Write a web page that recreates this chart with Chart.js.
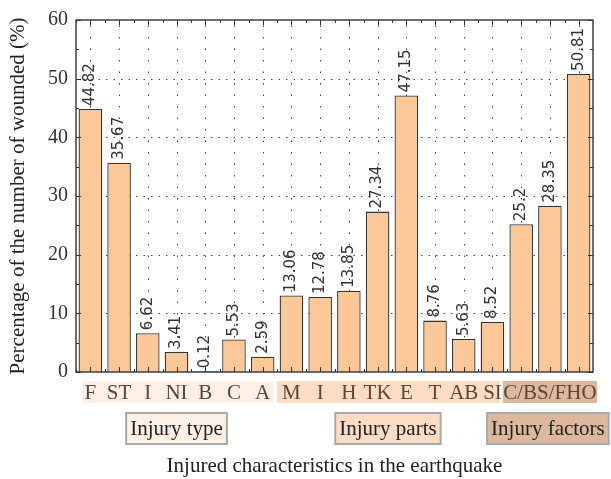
<!DOCTYPE html>
<html>
<head>
<meta charset="utf-8">
<script src="https://cdn.jsdelivr.net/npm/chart.js@4.4.1/dist/chart.umd.min.js"></script>
<style>
  html, body { margin: 0; padding: 0; background: #fff; }
  canvas { display: block; }
</style>
</head>
<body>
<canvas id="injuryChart" width="611" height="479"></canvas>
<script>
// Category labels per group
const typeLabels = ['F', 'ST', 'I', 'NI', 'B', 'C', 'A'];
const partLabels = ['M', 'I', 'H', 'TK', 'E', 'T', 'AB', 'SI'];
const factorLabels = ['C', 'BS', 'FHO'];

// Percentages
const typeValues = [44.82, 35.67, 6.62, 3.41, 0.12, 5.53, 2.59];
const partValues = [13.06, 12.78, 13.85, 27.34, 47.15, 8.76, 5.63, 8.52];
const factorValues = [25.2, 28.35, 50.81];

const groupNames = ['Injury type', 'Injury parts', 'Injury factors'];
const yTicks = [0, 10, 20, 30, 40, 50, 60];

const allLabels = [...typeLabels, ...partLabels, ...factorLabels];
const allValues = [...typeValues, ...partValues, ...factorValues];

// group ranges (first index, last index)
const groups = [
  { name: groupNames[0], from: 0, to: typeLabels.length - 1, band: '#fdf0e6', box: '#fdf0e6' },
  { name: groupNames[1], from: typeLabels.length, to: typeLabels.length + partLabels.length - 1, band: '#fddcc4', box: '#fcdcc3' },
  { name: groupNames[2], from: typeLabels.length + partLabels.length, to: allLabels.length - 1, band: '#ddb89d', box: '#ddb89e' }
];

const serif = '"Liberation Serif", "Times New Roman", serif';

const decorPlugin = {
  id: 'decor',
  beforeDatasetsDraw(chart) {
    // dotted grid, drawn under the bars
    const { ctx, chartArea: a, scales: { x, y } } = chart;
    ctx.save();
    ctx.strokeStyle = '#444';
    ctx.lineWidth = 1;
    ctx.setLineDash([1.5, 6]);
    ctx.beginPath();
    yTicks.slice(1, -1).forEach(v => {
      const py = Math.round(y.getPixelForValue(v)) + 0.5;
      ctx.moveTo(a.left, py); ctx.lineTo(a.right, py);
    });
    ctx.stroke();
    ctx.setLineDash([1.5, 10]);
    ctx.beginPath();
    allLabels.forEach((_, i) => {
      const cx = Math.round(x.getPixelForValue(i)) + 0.5;
      ctx.moveTo(cx, a.bottom); ctx.lineTo(cx, a.top);
    });
    ctx.stroke();
    ctx.restore();
  },
  afterDatasetsDraw(chart) {
    const { ctx, chartArea: a, scales: { x, y } } = chart;
    const meta = chart.getDatasetMeta(0);
    const step = x.getPixelForValue(1) - x.getPixelForValue(0);

    // value labels, rotated
    ctx.save();
    ctx.fillStyle = '#333';
    ctx.font = '15px "DejaVu Sans", sans-serif';
    ctx.textAlign = 'left';
    ctx.textBaseline = 'middle';
    meta.data.forEach((bar, i) => {
      ctx.save();
      ctx.translate(bar.x, bar.y - 3);
      ctx.rotate(-Math.PI / 2);
      ctx.fillText(String(allValues[i]), 0, 0);
      ctx.restore();
    });
    ctx.restore();

    // inner ticks
    ctx.save();
    ctx.strokeStyle = '#333';
    ctx.lineWidth = 1;
    ctx.beginPath();
    allLabels.forEach((_, i) => {
      const cx = Math.round(x.getPixelForValue(i)) + 0.5;
      ctx.moveTo(cx, a.bottom); ctx.lineTo(cx, a.bottom - 5);
      ctx.moveTo(cx, a.top); ctx.lineTo(cx, a.top + 5);
      const bx = Math.round(cx - step / 2) + 0.5;
      ctx.moveTo(bx, a.bottom); ctx.lineTo(bx, a.bottom - 3);
      ctx.moveTo(bx, a.top); ctx.lineTo(bx, a.top + 3);
    });
    for (let v = 0; v <= 60; v += 5) {
      const py = Math.round(y.getPixelForValue(v)) + 0.5;
      const len = v % 10 === 0 ? 5 : 3;
      ctx.moveTo(a.left, py); ctx.lineTo(a.left + len, py);
      ctx.moveTo(a.right, py); ctx.lineTo(a.right - len, py);
    }
    ctx.stroke();

    // frame
    ctx.lineWidth = 1.4;
    ctx.strokeRect(a.left, a.top, a.right - a.left, a.bottom - a.top);
    ctx.restore();
  },
  afterDraw(chart) {
    const { ctx, chartArea: a, scales: { x } } = chart;
    const step = x.getPixelForValue(1) - x.getPixelForValue(0);
    const bandTop = a.bottom + 9, bandH = 22;

    ctx.save();
    ctx.font = '21px ' + serif;
    ctx.textBaseline = 'middle';
    ctx.textAlign = 'center';

    // category bands
    const edges = [
      [x.getPixelForValue(groups[0].from) - step / 2 + 7, x.getPixelForValue(groups[0].to) + step / 2 - 3],
      [x.getPixelForValue(groups[1].from) - step / 2, x.getPixelForValue(groups[1].to) + step / 2 - 8],
      [x.getPixelForValue(groups[2].from) - step / 2 - 4, x.getPixelForValue(groups[2].to) + step / 2 + 4]
    ];
    groups.forEach((g, k) => {
      ctx.fillStyle = g.band;
      ctx.fillRect(edges[k][0], bandTop, edges[k][1] - edges[k][0], bandH);
    });

    ctx.fillStyle = '#5b4636';
    for (let i = 0; i < groups[2].from; i++) {
      ctx.fillText(allLabels[i], x.getPixelForValue(i), bandTop + bandH / 2 + 1);
    }
    const fMid = (x.getPixelForValue(groups[2].from) + x.getPixelForValue(groups[2].to)) / 2;
    ctx.fillText(factorLabels.join('/'), fMid, bandTop + bandH / 2 + 1);

    // group boxes
    const boxTop = a.bottom + 41, boxH = 31;
    groups.forEach((g, k) => {
      const mid = (x.getPixelForValue(g.from) + x.getPixelForValue(g.to)) / 2 - (k === 1 ? 4 : k === 2 ? 2 : 0);
      const w = ctx.measureText(g.name).width + 8;
      ctx.fillStyle = g.box;
      ctx.fillRect(mid - w / 2, boxTop, w, boxH);
      ctx.strokeStyle = '#a9a9a9';
      ctx.lineWidth = 2;
      ctx.strokeRect(mid - w / 2, boxTop, w, boxH);
      ctx.fillStyle = '#222';
      ctx.fillText(g.name, mid, boxTop + boxH / 2 + 1);
    });

    // x axis title
    ctx.fillStyle = '#222';
    ctx.fillText('Injured characteristics in the earthquake', (a.left + a.right) / 2, a.bottom + 94);
    ctx.restore();
  }
};

new Chart(document.getElementById('injuryChart'), {
  type: 'bar',
  data: {
    labels: allLabels,
    datasets: [{
      data: allValues,
      backgroundColor: '#fdc898',
      borderColor: '#333',
      borderWidth: 1.3,
      borderSkipped: 'bottom',
      categoryPercentage: 1,
      barPercentage: 0.82
    }]
  },
  options: {
    responsive: false,
    animation: false,
    devicePixelRatio: 1,
    layout: { padding: { top: 14, right: 18, left: 0, bottom: 0 } },
    plugins: {
      legend: { display: false },
      tooltip: { enabled: false }
    },
    scales: {
      x: {
        offset: true,
        ticks: { display: false },
        grid: { display: false },
        border: { display: false },
        afterFit: s => { s.height = 107; }
      },
      y: {
        min: 0,
        max: 60,
        afterBuildTicks: s => { s.ticks = yTicks.map(v => ({ value: v })); },
        ticks: { color: '#333', padding: 8, font: { family: serif, size: 20 } },
        grid: { display: false, drawTicks: false },
        border: { display: false },
        title: {
          display: true,
          text: 'Percentage of the number of wounded (%)',
          color: '#222',
          font: { family: serif, size: 21 },
          padding: { top: 6, bottom: 0 }
        },
        afterFit: s => { s.width = 76; }
      }
    }
  },
  plugins: [decorPlugin]
});
</script>
</body>
</html>
